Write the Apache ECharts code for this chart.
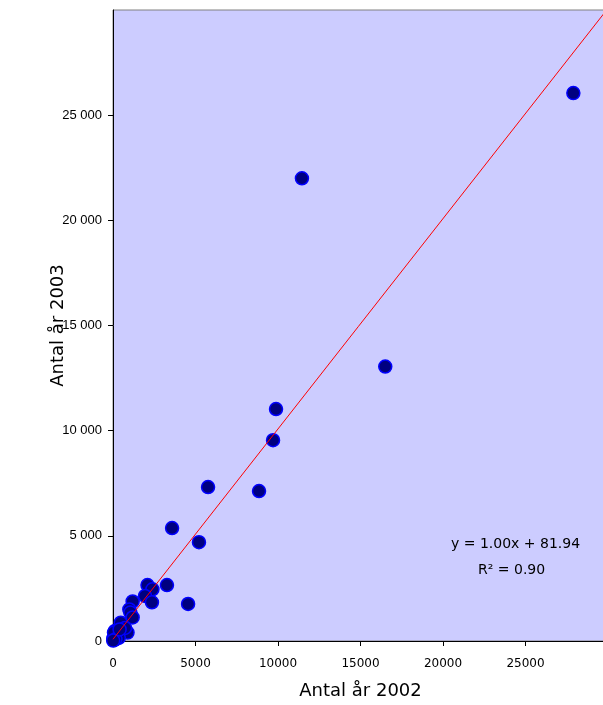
<!DOCTYPE html>
<html>
<head>
<meta charset="utf-8">
<script src="https://cdn.jsdelivr.net/npm/echarts@6/dist/echarts.min.js"></script>
<style>
  html, body { margin: 0; padding: 0; background: #fff; }
  #chart { width: 603px; height: 705px; }
</style>
</head>
<body>
<div id="chart"></div>
<script>
// Antal per enhet: år 2002 (x) mot år 2003 (y)
const antal2002 = [27900, 11450, 16500, 9880, 9700, 5760, 8850, 3580, 5210, 3270, 4550,
  2090, 2390, 1940, 2360, 1190, 990, 1050, 1190, 470, 880, 730, 120, 300, 20, 50, 100, 200, 350, 60, 150, 10, 400];
const antal2003 = [26050, 22000, 13050, 11030, 9550, 7320, 7130, 5370, 4700, 2660, 1760,
  2660, 2460, 2140, 1840, 1880, 1500, 1350, 1120, 870, 400, 620, 480, 290, 130, 50, 200, 320, 150, 400, 80, 20, 550];

// Linjär trendlinje
const slope = 1.00;
const intercept = 81.94;
const rSquared = 0.90;
const trendX = [0, 30000];

// Axelinställningar
const axisMax = 30000;
const axisStep = 5000;
const tickValues = [0, 5000, 10000, 15000, 20000, 25000];

const comic = '"Comic Sans MS", "DejaVu Sans", sans-serif';
const points = antal2002.map((x, i) => [x, antal2003[i]]);
const trend = trendX.map(x => [x, slope * x + intercept]);

const fmtSpace = v => String(v).replace(/\B(?=(\d{3})+(?!\d))/g, ' ');

const chart = echarts.init(document.getElementById('chart'), null, { renderer: 'canvas' });
chart.setOption({
  animation: false,
  backgroundColor: '#ffffff',
  grid: {
    left: 113, top: 10, right: -5, bottom: 64,
    containLabel: false, outerBoundsMode: 'none',
    show: true, backgroundColor: '#CCCCFF', borderColor: '#808080', borderWidth: 1
  },
  xAxis: {
    type: 'value', min: 0, max: axisMax, interval: axisStep,
    name: 'Antal år 2002', nameLocation: 'middle', nameGap: 41, nameMoveOverlap: false,
    nameTextStyle: { fontFamily: comic, fontSize: 18, color: '#000' },
    axisLine: { show: true, lineStyle: { color: '#000', width: 1 } },
    axisTick: { show: true, length: 5, lineStyle: { color: '#000' }, customValues: tickValues },
    axisLabel: { fontFamily: comic, fontSize: 12, color: '#000', margin: 17,
      customValues: tickValues, formatter: v => String(v) },
    splitLine: { show: false }
  },
  yAxis: {
    type: 'value', min: 0, max: axisMax, interval: axisStep,
    name: 'Antal år 2003', nameLocation: 'middle', nameGap: 46, nameRotate: 90, nameMoveOverlap: false,
    nameTextStyle: { fontFamily: comic, fontSize: 18, color: '#000' },
    axisLine: { show: true, lineStyle: { color: '#000', width: 1 } },
    axisTick: { show: true, length: 5, lineStyle: { color: '#000' }, customValues: tickValues },
    axisLabel: { fontFamily: '"Liberation Sans", Arial, sans-serif', fontSize: 13, color: '#000', margin: 11,
      customValues: tickValues, formatter: v => fmtSpace(v) },
    splitLine: { show: false }
  },
  series: [
    {
      type: 'scatter',
      data: points,
      symbol: 'circle',
      symbolSize: 13,
      itemStyle: { color: '#000080', borderColor: '#0000FF', borderWidth: 1.5, opacity: 1 },
      z: 2
    },
    {
      type: 'line',
      data: trend,
      symbol: 'none',
      clip: true,
      lineStyle: { color: '#FF0000', width: 1 },
      z: 3
    }
  ],
  graphic: [
    {
      type: 'text', left: 451, top: 537,
      style: { text: 'y = ' + slope.toFixed(2) + 'x + ' + intercept.toFixed(2),
        font: '14px ' + comic, fill: '#000' }
    },
    {
      type: 'text', left: 478, top: 563,
      style: { text: 'R² = ' + rSquared.toFixed(2), font: '14px ' + comic, fill: '#000' }
    }
  ]
});
</script>
</body>
</html>
